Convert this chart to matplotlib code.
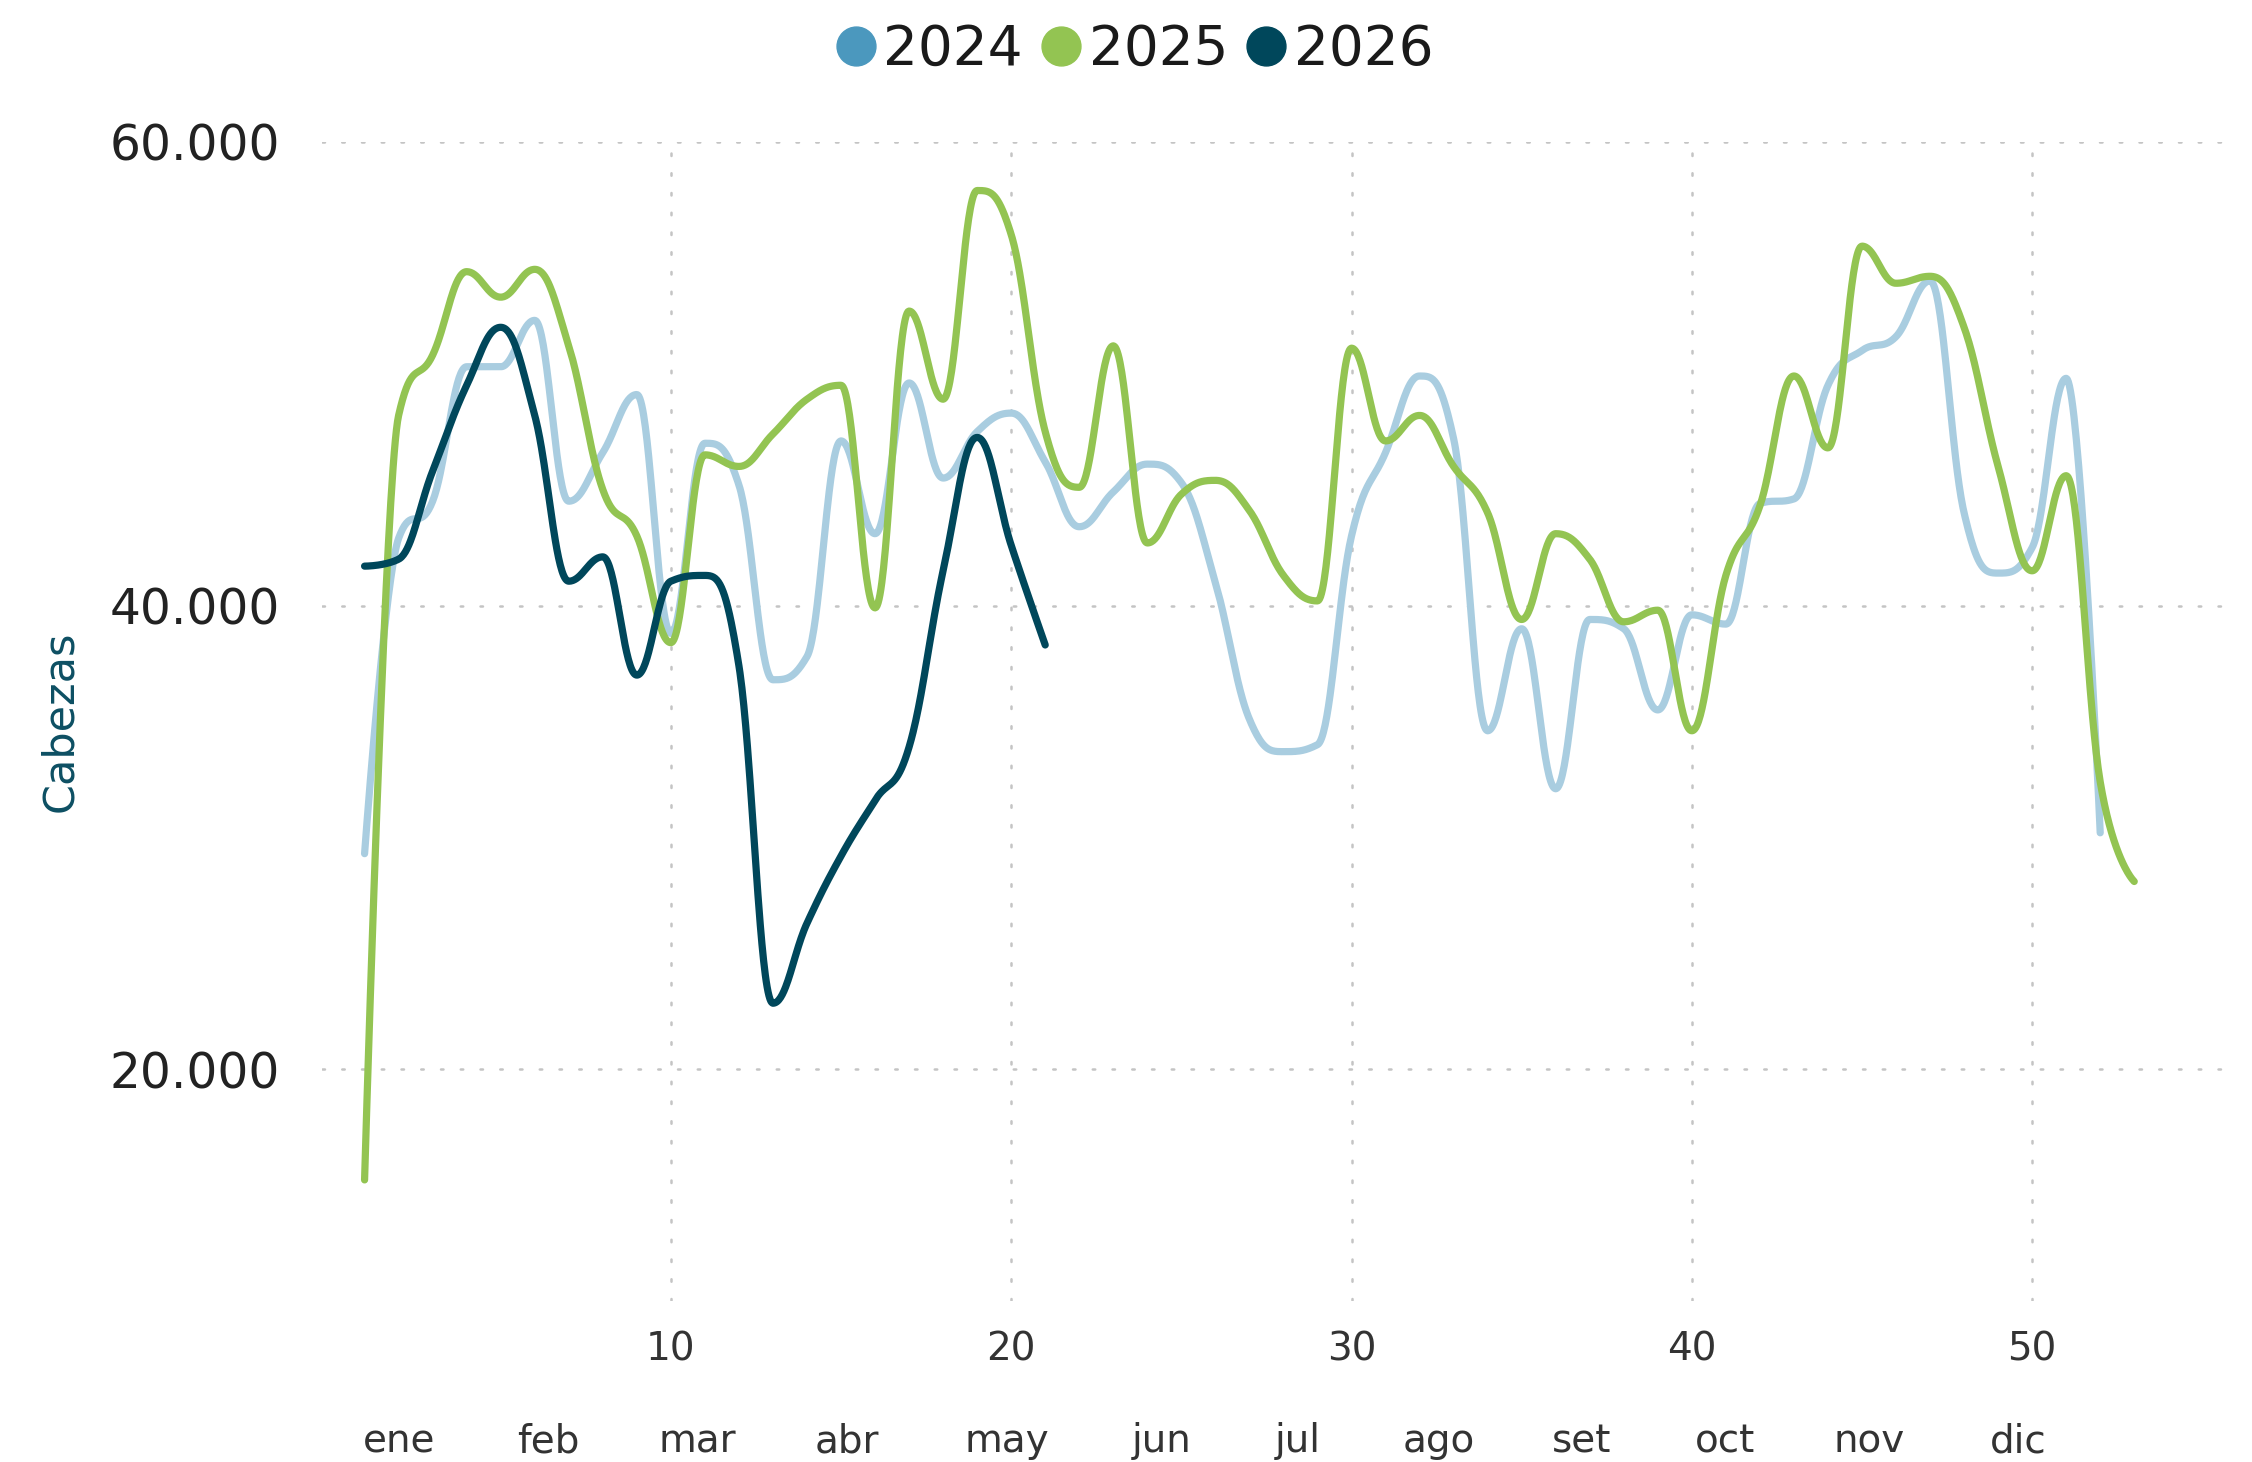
import numpy as np
import matplotlib
matplotlib.use("Agg")
import matplotlib.pyplot as plt
from matplotlib.lines import Line2D
from matplotlib.ticker import FuncFormatter


# datos semanales (cabezas)
weeks_2024 = list(range(1, 53))
heads_2024 = [29300, 42900, 44500, 50300, 50300, 52300, 44500, 46600, 49100, 38800,
              47000, 45200, 36800, 37800, 47100, 43100, 49600, 45500, 47500, 48300,
              46200, 43400, 44900, 46100, 45300, 41000, 35100, 33700, 34000, 43000,
              46600, 49900, 47200, 34600, 39000, 32100, 39400, 39000, 35500, 39600,
              39200, 44400, 44600, 49500, 51000, 51600, 54000, 44000, 41400, 42500,
              49800, 30200]

weeks_2025 = list(range(1, 54))
heads_2025 = [15230, 48200, 50800, 54400, 53300, 54500, 51200, 45000, 43000, 38400,
              46500, 46000, 47400, 48900, 49500, 39900, 52700, 48900, 57900, 56000,
              47500, 45100, 51200, 42700, 44800, 45400, 44100, 41300, 40200, 51100,
              47100, 48200, 46000, 44000, 39400, 43100, 42000, 39300, 39800, 34600,
              41300, 44300, 49900, 46800, 55500, 53900, 54200, 52000, 46000, 41500,
              45600, 32400, 28100]

weeks_2026 = list(range(1, 22))
heads_2026 = [41700, 42000, 45800, 49500, 52000, 48200, 41050, 42100, 37000, 41050,
              41300, 37400, 22850, 26300, 29200, 31600, 33900, 41500, 47250, 42600,
              38300]

months = ['ene', 'feb', 'mar', 'abr', 'may', 'jun', 'jul', 'ago', 'set', 'oct', 'nov', 'dic']
# posicion de cada etiqueta de mes, en semanas
month_pos = [2.02, 6.40, 10.78, 15.18, 19.88, 24.43, 28.43, 32.55, 36.75, 40.98, 45.21, 49.58]

COL_2024 = '#a9cde0'
COL_2024_LEG = '#4b98be'
COL_2025 = '#93c452'
COL_2026 = '#00475b'


def smooth(xs, ys, n=40):
    # curva tipo "spline" (control points suavizados, sin sobrepasar extremos)
    xs = [float(v) for v in xs]
    ys = [float(v) for v in ys]
    m = len(xs)
    left = [(xs[i], ys[i]) for i in range(m)]
    right = [(xs[i], ys[i]) for i in range(m)]
    s = 1.5
    d = s + 1
    for i in range(1, m - 1):
        x, y = xs[i], ys[i]
        lx, ly = xs[i - 1], ys[i - 1]
        nx, ny = xs[i + 1], ys[i + 1]
        lcx = (s * x + lx) / d
        lcy = (s * y + ly) / d
        rcx = (s * x + nx) / d
        rcy = (s * y + ny) / d
        if rcx != lcx:
            corr = ((rcy - lcy) * (rcx - x)) / (rcx - lcx) + y - rcy
            lcy += corr
            rcy += corr
        if lcy > ly and lcy > y:
            lcy = max(ly, y)
            rcy = 2 * y - lcy
        elif lcy < ly and lcy < y:
            lcy = min(ly, y)
            rcy = 2 * y - lcy
        if rcy > ny and rcy > y:
            rcy = max(ny, y)
            lcy = 2 * y - rcy
        elif rcy < ny and rcy < y:
            rcy = min(ny, y)
            lcy = 2 * y - rcy
        left[i] = (lcx, lcy)
        right[i] = (rcx, rcy)
    t = np.linspace(0, 1, n)[1:]
    out_x, out_y = [xs[0]], [ys[0]]
    for i in range(1, m):
        p0 = np.array([xs[i - 1], ys[i - 1]])
        p1 = np.array(right[i - 1])
        p2 = np.array(left[i])
        p3 = np.array([xs[i], ys[i]])
        for tt in t:
            p = ((1 - tt) ** 3) * p0 + 3 * ((1 - tt) ** 2) * tt * p1 \
                + 3 * (1 - tt) * tt ** 2 * p2 + tt ** 3 * p3
            out_x.append(p[0])
            out_y.append(p[1])
    return out_x, out_y


fig = plt.figure(figsize=(22.52, 14.62), dpi=100)
ax = fig.add_axes([0.143, 0.110, 0.844, 0.793])

for wk, vals, col, z in [(weeks_2024, heads_2024, COL_2024, 2),
                         (weeks_2025, heads_2025, COL_2025, 3),
                         (weeks_2026, heads_2026, COL_2026, 4)]:
    sx, sy = smooth(wk, vals)
    ax.plot(sx, sy, color=col, lw=5.2, solid_capstyle='round',
            solid_joinstyle='round', zorder=z)

ax.set_xlim(-0.25, 55.6)
ax.set_ylim(10000, 60000)
ax.set_yticks([20000, 40000, 60000])
ax.set_xticks([10, 20, 30, 40, 50])
ax.yaxis.set_major_formatter(FuncFormatter(lambda v, p: f'{int(v):,}'.replace(',', '.')))

ax.grid(True, color='#c4c4c4', lw=1.8, linestyle=(0, (1, 6.9)), dash_capstyle='round')
ax.set_axisbelow(True)
for sp in ax.spines.values():
    sp.set_visible(False)
ax.tick_params(axis='both', length=0)
ax.tick_params(axis='y', labelsize=35, labelcolor='#222222', pad=30)
ax.tick_params(axis='x', labelsize=28, labelcolor='#333333', pad=21)

ax.set_ylabel('Cabezas', fontsize=31, color='#0d4f63')
ax.yaxis.set_label_coords(-0.127, 0.5)

# etiquetas de meses bajo el eje
for pos, name in zip(month_pos, months):
    ax.text(pos, -0.121, name, transform=ax.get_xaxis_transform(),
            ha='center', va='center', fontsize=28, color='#333333')

handles = [Line2D([], [], marker='o', ls='none', markersize=28, color=c)
           for c in (COL_2024_LEG, COL_2025, COL_2026)]
fig.legend(handles, ['2024', '2025', '2026'], loc='center', bbox_to_anchor=(0.504, 0.966),
           ncol=3, frameon=False, fontsize=39.5, handlelength=0.7, handletextpad=0.15,
           columnspacing=0.35, labelcolor='#1a1a1a')

fig.savefig('out.png', dpi=100)
